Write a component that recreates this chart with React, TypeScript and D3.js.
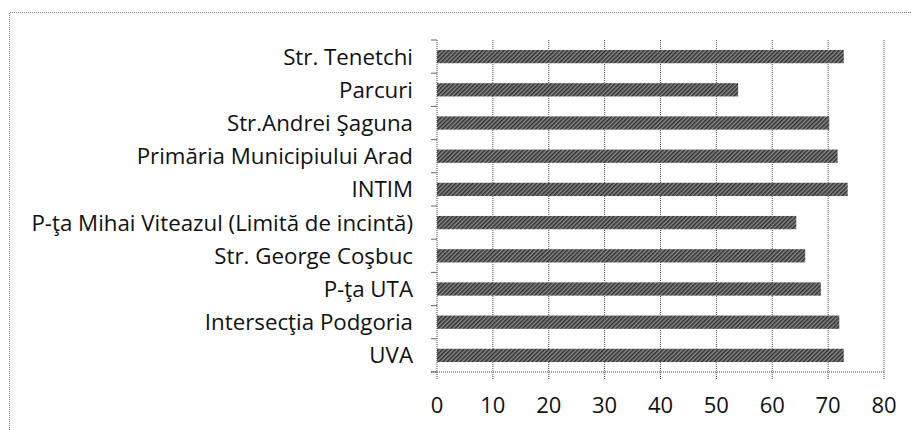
import React, { useRef, useEffect } from 'react';
import * as d3 from 'd3';

const locations = [
  'Str. Tenetchi',
  'Parcuri ',
  'Str.Andrei Şaguna',
  'Primăria Municipiului Arad',
  'INTIM',
  'P-ţa Mihai Viteazul (Limită de incintă)',
  'Str. George Coşbuc',
  'P-ţa UTA',
  'Intersecţia Podgoria',
  'UVA',
];
const levels = [72.8, 53.9, 70.2, 71.7, 73.5, 64.3, 65.9, 68.7, 72.0, 72.8];
const xTicks = [0, 10, 20, 30, 40, 50, 60, 70, 80];

const App = () => {
  const svgRef = useRef<SVGSVGElement>(null);

  useEffect(() => {
    const svg = d3.select(svgRef.current);
    svg.selectAll('*').remove();

    const margin = { top: 40, right: 27, bottom: 58, left: 437 };
    const W = 911;
    const H = 430;
    const width = W - margin.left - margin.right;
    const height = H - margin.top - margin.bottom;
    const font = "'Open Sans', sans-serif";

    // hatched fill like the scanned bars
    const defs = svg.append('defs');
    const pat = defs.append('pattern')
      .attr('id', 'hatch')
      .attr('patternUnits', 'userSpaceOnUse')
      .attr('width', 3)
      .attr('height', 3)
      .attr('patternTransform', 'rotate(45)');
    pat.append('rect').attr('width', 3).attr('height', 3).attr('fill', '#8a8a8a');
    pat.append('rect').attr('width', 1.5).attr('height', 3).attr('fill', '#2e2e2e');

    // outer frame
    svg.append('path')
      .attr('d', `M9.5,${H} V12.5 H${W}`)
      .attr('fill', 'none')
      .attr('stroke', '#7c7c7c')
      .attr('stroke-dasharray', '1,1');

    const x = d3.scaleLinear().domain([0, 80]).range([0, width]);
    const y = d3.scaleBand().domain(locations).range([0, height]).paddingInner(0.6).paddingOuter(0.3);
    const band = d3.scaleBand().domain(locations).range([0, height]);

    const chart = svg.append('g')
      .attr('transform', `translate(${margin.left},${margin.top})`);

    // gridlines
    chart.append('g')
      .selectAll('line')
      .data(xTicks.slice(1))
      .enter().append('line')
      .attr('x1', d => x(d))
      .attr('x2', d => x(d))
      .attr('y1', 0)
      .attr('y2', height + 7)
      .attr('stroke', '#4a4a4a')
      .attr('stroke-width', 1)
      .attr('stroke-dasharray', '1,1');

    // bars
    chart.append('g')
      .selectAll('rect')
      .data(levels)
      .enter().append('rect')
      .attr('x', 0)
      .attr('y', (d, i) => y(locations[i]) as number)
      .attr('width', d => x(d))
      .attr('height', y.bandwidth())
      .attr('fill', 'url(#hatch)');

    // left axis with category ticks at band edges
    const yAxis = chart.append('g');
    yAxis.append('line')
      .attr('x1', 0).attr('x2', 0)
      .attr('y1', 0).attr('y2', height + 7)
      .attr('stroke', '#444')
      .attr('stroke-dasharray', '1,1');
    yAxis.selectAll('.tk')
      .data(locations.concat(['end']))
      .enter().append('line')
      .attr('x1', -6).attr('x2', 0)
      .attr('y1', (d, i) => i * band.step())
      .attr('y2', (d, i) => i * band.step())
      .attr('stroke', '#666');
    yAxis.selectAll('text')
      .data(locations)
      .enter().append('text')
      .attr('x', -24)
      .attr('y', d => (band(d) as number) + band.bandwidth() / 2)
      .attr('dy', '0.36em')
      .attr('text-anchor', 'end')
      .style('font-family', font)
      .style('font-size', '22.3px')
      .style('fill', '#111')
      .text(d => d);

    // bottom axis
    const xAxis = chart.append('g').attr('transform', `translate(0,${height})`);
    xAxis.append('line')
      .attr('x1', -6).attr('x2', width)
      .attr('stroke', '#444')
      .attr('stroke-dasharray', '1,1');
    xAxis.selectAll('text')
      .data(xTicks)
      .enter().append('text')
      .attr('x', d => x(d))
      .attr('y', 41)
      .attr('text-anchor', 'middle')
      .style('font-family', font)
      .style('font-size', '22px')
      .style('fill', '#111')
      .text(d => d);
  }, []);

  return (
    <svg
      ref={svgRef}
      width={911}
      height={430}
      style={{ position: 'absolute', left: 0, top: 0, background: '#fff' }}
    />
  );
};

export default App;
